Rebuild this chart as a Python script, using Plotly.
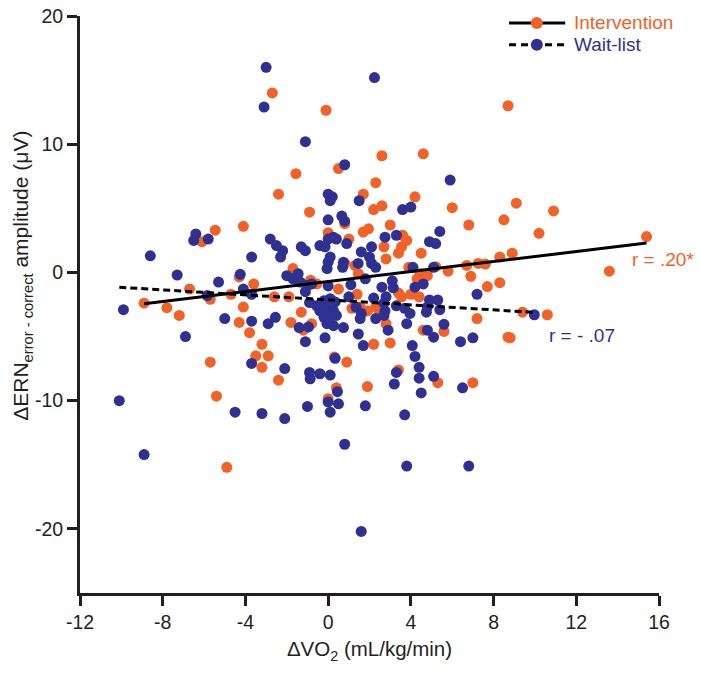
import plotly.graph_objects as go

# Intervention group (orange)
int_x = [-2.7, -0.1, -1.56, 0.5, -2.4, -0.9, 0.8, -5.46, -4.1, -6.1, 0.0, 1.0, -1.7, -4.3, -3.6,
         -6.7, -4.7, -2.6, -1.9, 0.5, -8.9, -0.85, -0.55, 8.7, 2.6, 4.6, 2.3, 1.7, 2.2, 2.6,
         4.2, 6.0, 9.1, 10.9, 8.5, 6.8, 3.0, 10.2, 1.7, 1.95, 3.6, 3.8, 3.55, 3.4, 2.7,
         4.5, 15.4, 2.8, 3.9, 4.45, 4.8, 4.3, 5.8, 6.7, 7.26, 7.6, 8.3, 8.9, 6.9, 13.6,
         7.7, 8.3, 3.4, 1.4, 4.0, 4.4, -7.8, -7.2, -5.7, -4.3, -4.1, -3.8, -3.2, -3.5, -2.9,
         -3.2, -5.7, -2.4, -5.4, -4.9, -1.8, -1.2, -0.8, -1.3, 0.9, 0.4, 0.0, 9.4, 10.6, 7.2,
         8.7, 8.8, 4.6, 5.6, 2.8, 3.0, 2.2, 3.4, 5.3, 7.0, 1.9, 0.3, 0.8, 1.3, 1.46,
         1.15, 1.55, 1.9, 2.3, 2.5, 3.55, 5.2]
int_y = [14.0, 12.65, 7.7, 8.1, 6.1, 4.7, 3.8, 3.3, 3.6, 2.4, 3.1, 2.6, 0.3, -0.35, -0.9,
         -1.3, -1.7, -1.9, -1.9, -1.3, -2.4, -0.6, -0.9, 13.0, 9.1, 9.25, 7.0, 6.1, 4.9, 5.2,
         5.9, 5.05, 5.4, 4.8, 4.1, 3.7, 3.7, 3.05, 3.15, 3.4, 2.9, 2.5, 2.0, 1.5, 2.0,
         1.5, 2.8, 1.05, 0.4, -0.1, -0.25, -0.5, 0.1, 0.55, 0.7, 0.65, 1.2, 1.5, -0.3, 0.1,
         -1.1, -0.8, -1.6, -1.7, -1.7, -1.9, -2.75, -3.35, -2.1, -3.9, -2.7, -4.7, -5.6, -6.5, -6.5,
         -7.4, -7.0, -8.4, -9.65, -15.2, -3.9, -4.5, -4.0, -3.1, -7.0, -9.0, -9.85, -3.1, -3.3, -3.6,
         -5.05, -5.1, -4.5, -4.6, -4.0, -5.5, -5.6, -7.6, -8.6, -8.6, -8.9, -6.6, 0.7, 0.55, -0.1,
         -2.8, -2.7, -3.0, -2.7, -3.1, -1.9, 0.45]

# Wait-list group (blue)
wl_x = [-3.0, -3.1, -1.1, 0.8, 0.0, 0.2, 0.1, 0.0, 0.66, 0.8, -6.4, -6.5, -5.8, -8.6, -7.3,
        -5.3, -3.7, -2.8, -2.5, -2.2, -2.3, -1.3, -1.1, -0.4, -0.15, 0.25, 0.4, 0.0, -0.05, 0.1,
        0.9, 0.7, -2.0, -1.7, -1.45, -1.35, -1.0, -0.8, -1.1, 0.0, -4.25, -4.1, -3.7, -5.85, 1.1,
        2.24, 5.9, 1.5, 3.6, 4.0, 5.4, 4.9, 5.2, 2.75, 3.3, 2.1, 1.6, 2.0, 2.1, 2.3,
        1.45, 4.1, 5.1, 1.8, 2.6, 3.1, 3.15, 4.2, 4.6, 7.2, 2.2, 2.8, 4.9, 5.3, -9.9,
        -6.9, -5.0, -3.7, -2.9, -2.55, -1.4, -0.95, -1.1, -0.9, 0.74, -0.15, 0.34, -3.7, -2.1, -0.9,
        -0.87, -0.4, 0.1, -10.1, -4.5, -3.2, -2.1, -1.0, 0.45, 0.5, 0.0, 0.1, -8.9, 0.8, 9.97,
        6.4, 7.0, 5.6, 4.8, 5.1, 4.07, 4.2, 4.4, 4.4, 4.5, 5.1, 3.3, 3.2, 6.5, 3.7,
        1.8, 3.8, 6.8, 1.6, 1.46, 1.7, 1.35, 1.6, 1.55, 2.3, 2.7, 2.7, 3.3, 3.7, 3.96,
        3.8, 4.75, 4.8, 5.4, 2.75, 2.9, -0.55, -0.2, 0.1, 0.34, -0.4, -0.06, 0.26, -0.2, 0.1,
        0.4, -0.06, 0.26, 1.0, 0.74, 0.0]
wl_y = [16.0, 12.9, 10.2, 8.4, 6.1, 5.9, 5.6, 4.1, 4.4, 4.0, 3.0, 2.5, 2.6, 1.3, -0.2,
        -0.75, 1.2, 2.6, 2.1, 1.7, 1.2, 2.0, 1.7, 2.1, 2.0, 2.75, 2.6, 0.8, 0.3, 1.2,
        2.25, 0.4, -0.25, -0.5, -0.1, -0.75, -1.0, -0.9, -1.5, -1.05, -0.15, -1.3, -1.7, -1.8, -0.95,
        15.2, 7.2, 5.6, 4.9, 5.1, 3.2, 2.4, 2.25, 2.75, 2.9, 2.0, 1.6, 1.2, 0.7, 0.4,
        0.7, 0.4, 0.4, -0.5, -1.15, -0.65, -1.2, -1.15, -0.9, -1.7, -2.0, -1.9, -2.15, -2.15, -2.9,
        -5.0, -3.6, -3.8, -4.0, -3.5, -4.3, -4.25, -5.4, -2.35, -4.3, -5.1, -6.7, -7.1, -7.5, -7.8,
        -8.3, -7.9, -8.0, -10.0, -10.9, -11.0, -11.4, -10.45, -9.3, -10.25, -10.1, -10.9, -14.2, -13.4, -3.3,
        -5.4, -5.1, -4.05, -4.5, -5.05, -5.7, -6.55, -7.4, -8.25, -9.4, -8.1, -7.8, -8.7, -9.0, -11.1,
        -10.4, -15.1, -15.1, -20.2, -4.8, -5.7, -2.7, -3.2, -3.6, -3.6, -3.35, -2.4, -2.6, -2.8, -3.2,
        -4.0, -3.1, -2.7, -2.9, -3.0, -4.5, -2.6, -2.2, -2.05, -2.3, -3.0, -2.8, -3.0, -3.5, -3.5,
        -3.35, -4.0, -4.15, -1.9, 0.8, 2.6]

# Fitted regression lines (slope, intercept, x-range)
int_fit = {"slope": 0.195, "intercept": -0.71, "xmin": -8.9, "xmax": 15.4}
wl_fit = {"slope": -0.0976, "intercept": -2.14, "xmin": -10.1, "xmax": 10.0}

x_ticks = [-12, -8, -4, 0, 4, 8, 12, 16]
y_ticks = [-20, -10, 0, 10, 20]

groups = ["Intervention", "Wait-list"]
stats = ["r = .20*", "r = - .07"]

ORANGE = "#F26125"
BLUE = "#2E3192"
DARK = "#231F20"
FONT = "Liberation Sans, Arial, sans-serif"

fig = go.Figure()

fig.add_trace(go.Scatter(x=int_x, y=int_y, mode="markers", showlegend=False, hoverinfo="skip",
                         marker=dict(color=ORANGE, size=11, line=dict(width=0))))
fig.add_trace(go.Scatter(x=wl_x, y=wl_y, mode="markers", showlegend=False, hoverinfo="skip",
                         marker=dict(color=BLUE, size=11, line=dict(width=0))))


def fit_line(f):
    xs = [f["xmin"], f["xmax"]]
    ys = [f["intercept"] + f["slope"] * v for v in xs]
    return xs, ys


ix, iy = fit_line(int_fit)
wx, wy = fit_line(wl_fit)
fig.add_trace(go.Scatter(x=ix, y=iy, mode="lines", showlegend=False, hoverinfo="skip",
                         line=dict(color="black", width=3)))
fig.add_trace(go.Scatter(x=wx, y=wy, mode="lines", showlegend=False, hoverinfo="skip",
                         line=dict(color="black", width=3, dash="7px,4px")))

# manual legend (paper coordinates)
leg_rows = [(groups[0], ORANGE, "solid", 0.988), (groups[1], BLUE, "7px,5px", 0.950)]
for name, col, dash, yy in leg_rows:
    fig.add_shape(type="line", xref="paper", yref="paper", x0=0.741, x1=0.838, y0=yy, y1=yy,
                  line=dict(color="black", width=3, dash=dash))
    fig.add_shape(type="circle", xref="paper", yref="paper", xsizemode="pixel", ysizemode="pixel",
                  xanchor=0.789, yanchor=yy, x0=-6, x1=6, y0=-6, y1=6,
                  fillcolor=col, line=dict(width=0))
    fig.add_annotation(xref="paper", yref="paper", x=0.850, y=yy, text=name, showarrow=False,
                       xanchor="left", yanchor="middle",
                       font=dict(color=col, size=19, family=FONT))

fig.add_annotation(x=14.6, y=1.0, text=stats[0], showarrow=False, xanchor="left",
                   font=dict(color=ORANGE, size=19, family=FONT))
fig.add_annotation(x=10.6, y=-4.9, text=stats[1], showarrow=False, xanchor="left",
                   font=dict(color=BLUE, size=19, family=FONT))
fig.add_annotation(xref="paper", yref="paper", x=-0.100, y=0.55, textangle=-90,
                   xanchor="center", yanchor="middle",
                   text="ΔERN<sub>error - correct</sub> amplitude (μV)", showarrow=False,
                   font=dict(color=DARK, size=21, family=FONT))

axis_common = dict(showline=True, linewidth=3, linecolor=DARK, ticks="outside", ticklen=10,
                   tickwidth=3, tickcolor=DARK, showgrid=False, zeroline=False, automargin=False,
                   tickfont=dict(size=19.5, color=DARK, family=FONT))

fig.update_layout(
    width=701, height=676,
    margin=dict(l=80, r=42, t=16, b=83),
    plot_bgcolor="white", paper_bgcolor="white",
    font=dict(family=FONT, color=DARK),
    showlegend=False,
    hovermode=False,
    xaxis=dict(range=[-12, 16], tickvals=x_ticks, ticktext=[str(v) for v in x_ticks],
               title=dict(text="ΔVO<sub>2</sub> (mL/kg/min)", font=dict(size=20.5, color=DARK, family=FONT),
                          standoff=10),
               **axis_common),
    yaxis=dict(range=[-25, 20], tickvals=y_ticks, ticktext=[str(v) for v in y_ticks], **axis_common),
)

# remove the default page margin so the figure sits at the window's top-left corner
fig.write_html("out.html", config={"displayModeBar": False},
               post_script="document.body.style.margin='0px';")
